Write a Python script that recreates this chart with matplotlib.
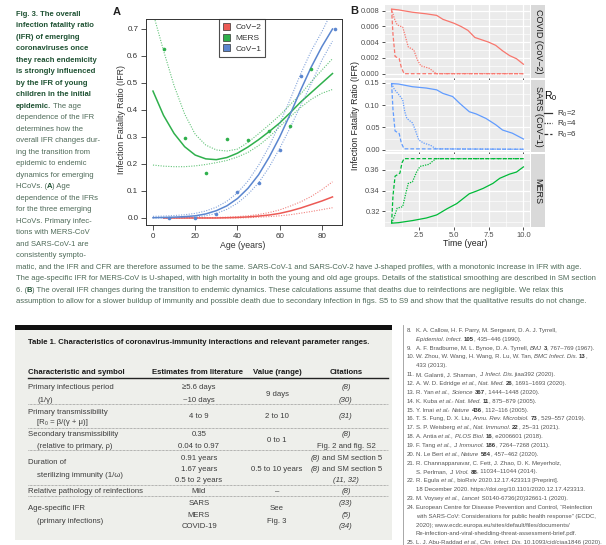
import re
import numpy as np
import matplotlib
matplotlib.use("Agg")
import matplotlib.pyplot as plt
from matplotlib.lines import Line2D
from matplotlib.patches import Patch, Rectangle

W, H = 606, 545
FAM = ["Liberation Sans Narrow", "Liberation Sans", "DejaVu Sans"]
PFAM = ["Liberation Sans", "DejaVu Sans"]
plt.rcParams["font.family"] = PFAM

# ---- panel A : age specific IFR ----
age_pts = [5, 15, 25, 35, 45, 55, 65, 75]
mers_pts = [0.626, 0.297, 0.165, 0.294, 0.289, 0.321, 0.342, 0.552]
cov1_age = [7.6, 20, 30, 40, 50, 60, 70, 86]
cov1_pts = [0.0, 0.0, 0.015, 0.098, 0.13, 0.253, 0.527, 0.70]

age_fit = [0, 5, 10, 15, 20, 25, 30, 35, 40, 45, 50, 55, 60, 65, 70, 75, 80, 85]
mers_fit = [0.47, 0.38, 0.313, 0.264, 0.233, 0.219, 0.216, 0.224, 0.24, 0.263, 0.29, 0.32, 0.352, 0.39, 0.43, 0.465, 0.50, 0.535]
mers_hi = [0.76, 0.62, 0.49, 0.385, 0.31, 0.27, 0.252, 0.248, 0.255, 0.28, 0.312, 0.345, 0.38, 0.42, 0.46, 0.505, 0.548, 0.59]
mers_lo = [0.196, 0.192, 0.19, 0.19, 0.193, 0.198, 0.205, 0.213, 0.226, 0.243, 0.268, 0.30, 0.338, 0.375, 0.41, 0.44, 0.462, 0.476]
cov1_fit = [0.001, 0.002, 0.003, 0.005, 0.008, 0.015, 0.027, 0.045, 0.072, 0.11, 0.16, 0.225, 0.30, 0.385, 0.475, 0.56, 0.635, 0.70]
cov1_hi = [0.006, 0.007, 0.009, 0.012, 0.017, 0.026, 0.04, 0.062, 0.093, 0.137, 0.195, 0.265, 0.35, 0.44, 0.535, 0.62, 0.69, 0.77]
cov1_lo = [0.0, 0.0, 0.001, 0.002, 0.004, 0.008, 0.017, 0.032, 0.055, 0.088, 0.13, 0.188, 0.258, 0.335, 0.418, 0.498, 0.585, 0.655]
cov2_fit = [np.nan, 0, 0, 0, 0, 0, 0, 0.001, 0.002, 0.004, 0.007, 0.011, 0.017, 0.026, 0.037, 0.05, 0.063, 0.078]
cov2_hi = [np.nan, 0.001, 0.001, 0.001, 0.001, 0.001, 0.002, 0.003, 0.005, 0.008, 0.013, 0.02, 0.03, 0.044, 0.06, 0.08, 0.105, 0.134]
cov2_lo = [np.nan, 0, 0, 0, 0, 0, 0, 0, 0, 0.001, 0.003, 0.005, 0.008, 0.012, 0.018, 0.024, 0.031, 0.038]

# ---- panel B : overall IFR over time ----
c2_r2_t = [0.5, 1, 2, 3, 3.75, 4.2, 5, 5.5, 6, 6.5, 7, 7.5, 8, 8.5, 9, 9.5, 10]
c2_r2 = [0.0082, 0.0081, 0.0078, 0.0076, 0.0074, 0.0069, 0.0064, 0.006, 0.0055, 0.0046, 0.0043, 0.004, 0.0036, 0.0029, 0.0023, 0.0019, 0.0012]
c2_r4_t = [0.5, 0.7, 0.9, 1.3, 1.45, 1.7, 2.1, 2.35, 2.6, 3.2, 3.5, 3.7, 10]
c2_r4 = [0.0082, 0.007, 0.0062, 0.0059, 0.005, 0.0034, 0.003, 0.0018, 0.001, 0.0007, 0.0003, 0.0, 0.0]
c2_r6_t = [0.5, 0.6, 0.75, 1.05, 1.2, 1.4, 10]
c2_r6 = [0.0082, 0.005, 0.0022, 0.0019, 0.0008, 0.0, 0.0]

s_r2_t = [0.5, 1, 2, 3, 3.75, 4.2, 4.9, 5.4, 6.1, 6.6, 7.3, 8.0, 8.5, 9.2, 10]
s_r2 = [0.148, 0.147, 0.141, 0.138, 0.134, 0.126, 0.119, 0.104, 0.085, 0.08, 0.07, 0.056, 0.044, 0.037, 0.024]
s_r4_t = [0.5, 0.7, 1.0, 1.3, 1.45, 1.6, 2.0, 2.2, 2.45, 2.8, 3.3, 3.7, 10]
s_r4 = [0.148, 0.135, 0.124, 0.112, 0.085, 0.07, 0.06, 0.045, 0.022, 0.015, 0.01, 0.002, 0.001]
s_r6_t = [0.5, 0.6, 0.75, 1.05, 1.2, 1.4, 10]
s_r6 = [0.148, 0.09, 0.042, 0.036, 0.015, 0.002, 0.001]

m_r2_t = [0.5, 1, 2, 3, 3.75, 4.5, 5.2, 6.1, 6.6, 7.1, 7.8, 8.3, 9.0, 9.5, 10]
m_r2 = [0.3085, 0.309, 0.311, 0.3135, 0.3165, 0.3225, 0.3275, 0.337, 0.3395, 0.3422, 0.347, 0.352, 0.356, 0.358, 0.363]
m_r4_t = [0.5, 0.7, 0.9, 1.3, 1.5, 1.7, 2.0, 2.3, 2.55, 3.2, 3.5, 3.7, 10]
m_r4 = [0.3085, 0.315, 0.323, 0.3245, 0.336, 0.347, 0.3485, 0.358, 0.3635, 0.3655, 0.369, 0.371, 0.371]
m_r6_t = [0.5, 0.6, 0.75, 1.1, 1.25, 1.4, 10]
m_r6 = [0.3085, 0.335, 0.354, 0.357, 0.367, 0.371, 0.371]

RED, GREEN, BLUE = "#EC5A55", "#2FB04C", "#5B86CF"
GRED, GGREEN, GBLUE = "#F8766D", "#00BA38", "#619CFF"

fig = plt.figure(figsize=(W / 100, H / 100), dpi=100)
fig.patch.set_facecolor("white")
R = fig.canvas.get_renderer()


def P(x, y):
    return x / W, 1 - y / H


def box(x0, y0, x1, y1):
    return [x0 / W, 1 - y1 / H, (x1 - x0) / W, (y1 - y0) / H]


# ---------------- panel A ----------------
axA = fig.add_axes(box(146, 19, 342, 225))
axA.set_xlim(-3.3, 89.5)
axA.set_ylim(-0.026, 0.737)
for fit, lo, hi, col in [(cov2_fit, cov2_lo, cov2_hi, RED),
                         (mers_fit, mers_lo, mers_hi, GREEN),
                         (cov1_fit, cov1_lo, cov1_hi, BLUE)]:
    axA.plot(age_fit, fit, color=col, lw=1.1)
    axA.plot(age_fit, hi, color=col, lw=0.8, ls=(0, (1, 1.3)), alpha=0.75)
    axA.plot(age_fit, lo, color=col, lw=0.8, ls=(0, (1, 1.3)), alpha=0.75)
axA.plot(age_pts, mers_pts, "o", color=GREEN, ms=2.6, mec="none")
axA.plot(cov1_age, cov1_pts, "o", color=BLUE, ms=2.6, mec="none")
axA.set_xticks([0, 20, 40, 60, 80])
axA.set_yticks([0, 0.1, 0.2, 0.3, 0.4, 0.5, 0.6, 0.7])
axA.set_yticklabels(["0.0", "0.1", "0.2", "0.3", "0.4", "0.5", "0.6", "0.7"])
axA.tick_params(direction="out", length=3.5, width=0.6, labelsize=5.8,
                colors="#333333", pad=2)
for s in axA.spines.values():
    s.set_linewidth(0.7)
    s.set_color("#333333")
leg = axA.legend(handles=[Patch(fc=RED, ec="#333333", lw=0.5),
                          Patch(fc=GREEN, ec="#333333", lw=0.5),
                          Patch(fc=BLUE, ec="#333333", lw=0.5)],
                 labels=["CoV\u22122", "MERS", "CoV\u22121"],
                 loc="upper left", bbox_to_anchor=(0.372, 1.0), fontsize=6,
                 frameon=True, fancybox=False, handlelength=0.9,
                 handleheight=0.9, handletextpad=0.6, borderpad=0.45,
                 labelspacing=0.3, borderaxespad=0)
leg.get_frame().set_edgecolor("#222222")
leg.get_frame().set_linewidth(0.8)
for t in leg.get_texts():
    t.set_color("#333333")
fig.text(*P(243, 245), "Age (years)", ha="center", va="center", fontsize=6.3,
         color="#333333")
fig.text(*P(122, 120), "Infection Fatality Ratio (IFR)", ha="center",
         va="center", rotation=90, fontsize=6.3, color="#333333")
fig.text(*P(117, 12), "A", ha="center", va="center", fontsize=8,
         weight="bold", color="#222222")

# ---------------- panel B ----------------
facets = [
    ("COVID (CoV\u22122)", GRED, [(c2_r2_t, c2_r2), (c2_r4_t, c2_r4), (c2_r6_t, c2_r6)],
     (-0.00051, 0.00872), [0, 0.002, 0.004, 0.006, 0.008],
     ["0.000", "0.002", "0.004", "0.006", "0.008"], [0.001, 0.003, 0.005, 0.007], 5, 77.7),
    ("SARS (CoV\u22121)", GBLUE, [(s_r2_t, s_r2), (s_r4_t, s_r4), (s_r6_t, s_r6)],
     (-0.0058, 0.1567), [0, 0.05, 0.10, 0.15],
     ["0.00", "0.05", "0.10", "0.15"], [0.025, 0.075, 0.125], 79.7, 152.3),
    ("MERS", GGREEN, [(m_r2_t, m_r2), (m_r4_t, m_r4), (m_r6_t, m_r6)],
     (0.3048, 0.3752), [0.32, 0.34, 0.36],
     ["0.32", "0.34", "0.36"], [0.31, 0.33, 0.35, 0.37], 154.3, 227),
]
styles = ["-", (0, (1, 1)), (0, (3, 1.6))]
for k, (name, col, series, ylim, yt, ytl, ymin, top, bot) in enumerate(facets):
    ax = fig.add_axes(box(385, top, 530, bot))
    ax.set_facecolor("#EBEBEB")
    ax.set_xlim(0.025, 10.475)
    ax.set_ylim(*ylim)
    for v in [1.25, 3.75, 6.25, 8.75]:
        ax.axvline(v, color="white", lw=0.45, zorder=0)
    for v in ymin:
        ax.axhline(v, color="white", lw=0.45, zorder=0)
    for v in [2.5, 5, 7.5, 10]:
        ax.axvline(v, color="white", lw=0.9, zorder=0)
    for v in yt:
        ax.axhline(v, color="white", lw=0.9, zorder=0)
    for (t, v), ls in zip(series, styles):
        ax.plot(t, v, color=col, lw=0.9, ls=ls)
    ax.set_yticks(yt)
    ax.set_yticklabels(ytl)
    ax.set_xticks([2.5, 5, 7.5, 10])
    if k < 2:
        ax.tick_params(axis="x", labelbottom=False, length=0)
    else:
        ax.set_xticklabels(["2.5", "5.0", "7.5", "10.0"])
    ax.tick_params(length=2.2, width=0.6, colors="#333333", labelsize=5.4,
                   pad=1.5, labelcolor="#4D4D4D")
    for s in ax.spines.values():
        s.set_visible(False)
    st = fig.add_axes(box(531, top, 545, bot))
    st.set_facecolor("#D9D9D9")
    st.set_xticks([])
    st.set_yticks([])
    for s in st.spines.values():
        s.set_visible(False)
    st.text(0.5, 0.5, name, rotation=270, ha="center", va="center",
            fontsize=6.5, color="#1A1A1A", transform=st.transAxes)

fig.text(*P(465, 244), "Time (year)", ha="center", va="center", fontsize=6.3,
         color="#222222")
fig.text(*P(355, 116), "Infection Fatality Ratio (IFR)", ha="center",
         va="center", rotation=90, fontsize=6.3, color="#222222")
fig.text(*P(354, 11), "B", ha="center", va="center", fontsize=8,
         weight="bold", color="#222222")
lg = fig.legend(handles=[Line2D([], [], color="#333333", lw=0.9, ls=s) for s in styles],
                labels=["$\\mathregular{R_0}$=2", "$\\mathregular{R_0}$=4",
                        "$\\mathregular{R_0}$=6"],
                title="$\\mathregular{R_0}$", loc="upper left",
                bbox_to_anchor=P(544, 89), frameon=False, fontsize=5.8,
                handlelength=1.0, handletextpad=0.6, labelspacing=0.05,
                borderaxespad=0, borderpad=0)
lg.get_title().set_fontsize(7.5)
lg._legend_box.align = "left"
lg._legend_box.sep = 4
for t in lg.get_texts():
    t.set_color("#333333")


# ---------------- rich text helpers ----------------
def parse(s):
    out = []
    for p in re.split(r"(\*[^*]+\*|_[^_]+_)", s):
        if not p:
            continue
        if p[0] == "*":
            out.append((p[1:-1], "bold", "normal"))
        elif p[0] == "_":
            out.append((p[1:-1], "normal", "italic"))
        else:
            out.append((p, "normal", "normal"))
    return out


def width(s, size, weight="normal", style="normal"):
    a = fig.text(0, 0, "|" + s + "|", fontsize=size, weight=weight, style=style, family=FAM)
    b = fig.text(0, 0, "||", fontsize=size, weight=weight, style=style, family=FAM)
    w = a.get_window_extent(R).width - b.get_window_extent(R).width
    a.remove()
    b.remove()
    return w


def rich(x, y, s, size, color, bcolor=None, ha="left"):
    parts = parse(s)
    ws = [width(p, size, w, st) for p, w, st in parts]
    if ha == "center":
        x -= sum(ws) / 2
    for (p, w, st), wd in zip(parts, ws):
        c = bcolor if (w == "bold" and bcolor) else color
        fig.text(x / W, 1 - (y + 2.6) / H, p, fontsize=size, weight=w, style=st,
                 color=c, family=FAM, va="baseline", ha="left")
        x += wd


# ---------------- caption ----------------
cap_lines = [
    "*Fig. 3. The overall*",
    "*infection fatality ratio*",
    "*(IFR) of emerging*",
    "*coronaviruses once*",
    "*they reach endemicity*",
    "*is strongly influenced*",
    "*by the IFR of young*",
    "*children in the initial*",
    "*epidemic.* The age",
    "dependence of the IFR",
    "determines how the",
    "overall IFR changes dur-",
    "ing the transition from",
    "epidemic to endemic",
    "dynamics for emerging",
    "HCoVs. (*A*) Age",
    "dependence of the IFRs",
    "for the three emerging",
    "HCoVs. Primary infec-",
    "tions with MERS-CoV",
    "and SARS-CoV-1 are",
    "consistently sympto-",
    "matic, and the IFR and CFR are therefore assumed to be the same. SARS-CoV-1 and SARS-CoV-2 have J-shaped profiles, with a monotonic increase in IFR with age.",
    "The age-specific IFR for MERS-CoV is U-shaped, with high mortality in both the young and old age groups. Details of the statistical smoothing are described in SM section",
    "6. (*B*) The overall IFR changes during the transition to endemic dynamics. These calculations assume that deaths due to reinfections are negligible. We relax this",
    "assumption to allow for a slower buildup of immunity and possible death due to secondary infection in figs. S5 to S9 and show that the qualitative results do not change.",
]
cap_size = 6.0 * 571.5 / width(cap_lines[-1], 6.0)
for i, line in enumerate(cap_lines):
    rich(15.5, 13 + 11.5 * i, line, cap_size, "#4E6A58", bcolor="#1F5233")

# ---------------- table ----------------
fig.add_artist(Rectangle(P(15, 540), 377 / W, 210 / H, transform=fig.transFigure,
                         fc="#EEEFEB", ec="none"))
fig.add_artist(Rectangle(P(15, 330), 377 / W, 5 / H, transform=fig.transFigure,
                         fc="#111111", ec="none"))
tsize = 6.0 * 115.7 / width("Relative pathology of reinfections", 6.0)
TC = "#3C3C3C"
rich(28, 341, "*Table 1. Characteristics of coronavirus-immunity interactions and relevant parameter ranges.*",
     tsize, TC, bcolor="#1A1A1A")
rich(28, 371.7, "*Characteristic and symbol*", tsize, TC, bcolor="#1A1A1A")
rich(197, 371.7, "*Estimates from literature*", tsize, TC, bcolor="#1A1A1A", ha="center")
rich(277, 371.7, "*Value (range)*", tsize, TC, bcolor="#1A1A1A", ha="center")
rich(346, 371.7, "*Citations*", tsize, TC, bcolor="#1A1A1A", ha="center")
fig.add_artist(Line2D([28 / W, 388 / W], [1 - 378 / H] * 2, color="#222222", lw=1.0))
for yy in [404, 427.7, 450, 485, 496]:
    fig.add_artist(Line2D([28 / W, 388 / W], [1 - yy / H] * 2, color="#777777",
                          lw=0.5, ls=(0, (1, 1))))

col1 = [(386.7, "Primary infectious period", 28), (399, "(1/\u03b3)", 37),
        (411, "Primary transmissibility", 28), (421.7, "[R\u2080 = \u03b2/(\u03b3 + \u03bc)]", 37),
        (433.3, "Secondary transmissibility", 28), (445, "(relative to primary, \u03c1)", 37),
        (461.7, "Duration of", 28), (474, "sterilizing immunity (1/\u03c9)", 37),
        (490.7, "Relative pathology of reinfections", 28),
        (507.3, "Age-specific IFR", 28), (520, "(primary infections)", 37)]
col2 = [(386.7, "\u22655.6 days"), (399, "~10 days"), (415.7, "4 to 9"),
        (433.3, "0.35"), (445, "0.04 to 0.97"), (457.3, "0.91 years"),
        (468, "1.67 years"), (479, "0.5 to 2 years"), (490.7, "Mild"),
        (502.7, "SARS"), (514, "MERS"), (525, "COVID-19")]
col3 = [(393, "9 days"), (415.7, "2 to 10"), (439, "0 to 1"), (468, "0.5 to 10 years"),
        (490.7, "\u2013"), (507.3, "See"), (520, "Fig. 3")]
col4 = [(386.7, "_(8)_"), (399, "_(30)_"), (415.7, "_(31)_"), (433.3, "_(8)_"),
        (445, "Fig. 2 and fig. S2"), (457.3, "_(8)_ and SM section 5"),
        (468, "_(8)_ and SM section 5"), (479, "_(11, 32)_"), (490.7, "_(8)_"),
        (502.7, "_(33)_"), (514, "_(5)_"), (525, "_(34)_")]
for y, s, x in col1:
    rich(x, y, s, tsize, TC)
for y, s in col2:
    rich(199, y, s, tsize, TC, ha="center")
for y, s in col3:
    rich(277, y, s, tsize, TC, ha="center")
for y, s in col4:
    rich(346, y, s, tsize, TC, ha="center")

# ---------------- references ----------------
fig.add_artist(Line2D([402.7 / W] * 2, [1 - 325 / H, 0], color="#9A9A9A", lw=0.6))
refs = [
    ("8.", "K. A. Callow, H. F. Parry, M. Sergeant, D. A. J. Tyrrell,"),
    ("", "_Epidemiol. Infect._ *105*, 435\u2013446 (1990)."),
    ("9.", "A. F. Bradburne, M. L. Bynoe, D. A. Tyrrell, _BMJ_ *3*, 767\u2013769 (1967)."),
    ("10.", "W. Zhou, W. Wang, H. Wang, R. Lu, W. Tan, _BMC Infect. Dis._ *13*,"),
    ("", "433 (2013)."),
    ("11.", "M. Galanti, J. Shaman, _J. Infect. Dis._ jiaa392 (2020)."),
    ("12.", "A. W. D. Edridge _et al._, _Nat. Med._ *26*, 1691\u20131693 (2020)."),
    ("13.", "R. Yan _et al._, _Science_ *367*, 1444\u20131448 (2020)."),
    ("14.", "K. Kuba _et al._, _Nat. Med._ *11*, 875\u2013879 (2005)."),
    ("15.", "Y. Imai _et al._, _Nature_ *436*, 112\u2013116 (2005)."),
    ("16.", "T. S. Fung, D. X. Liu, _Annu. Rev. Microbiol._ *73*, 529\u2013557 (2019)."),
    ("17.", "S. P. Weisberg _et al._, _Nat. Immunol._ *22*, 25\u201331 (2021)."),
    ("18.", "A. Antia _et al._, _PLOS Biol._ *16*, e2006601 (2018)."),
    ("19.", "F. Tang _et al._, _J. Immunol._ *186*, 7264\u20137268 (2011)."),
    ("20.", "N. Le Bert _et al._, _Nature_ *584*, 457\u2013462 (2020)."),
    ("21.", "R. Channappanavar, C. Fett, J. Zhao, D. K. Meyerholz,"),
    ("", "S. Perlman, _J. Virol._ *88*, 11034\u201311044 (2014)."),
    ("22.", "R. Egula _et al._, bioRxiv 2020.12.17.423313 [Preprint]."),
    ("", "18 December 2020. https://doi.org/10.1101/2020.12.17.423313."),
    ("23.", "M. Voysey _et al._, _Lancet_ S0140-6736(20)32661-1 (2020)."),
    ("24.", "European Centre for Disease Prevention and Control, \u201cReinfection"),
    ("", "with SARS-CoV: Considerations for public health response\u201d (ECDC,"),
    ("", "2020); www.ecdc.europa.eu/sites/default/files/documents/"),
    ("", "Re-infection-and-viral-shedding-threat-assessment-brief.pdf."),
    ("25.", "L. J. Abu-Raddad _et al._, _Clin. Infect. Dis._ 10.1093/cid/ciaa1846 (2020)."),
]
rsize = 5.0 * 182 / sum(width(p, 5.0, w, st) for p, w, st in parse(refs[2][1]))
for i, (num, txt) in enumerate(refs):
    y = 329.3 + 8.85 * i
    if num:
        rich(406.7, y, num, rsize, "#555555")
    rich(416, y, txt, rsize, "#555555", bcolor="#333333")

fig.savefig("out.png", dpi=100)
